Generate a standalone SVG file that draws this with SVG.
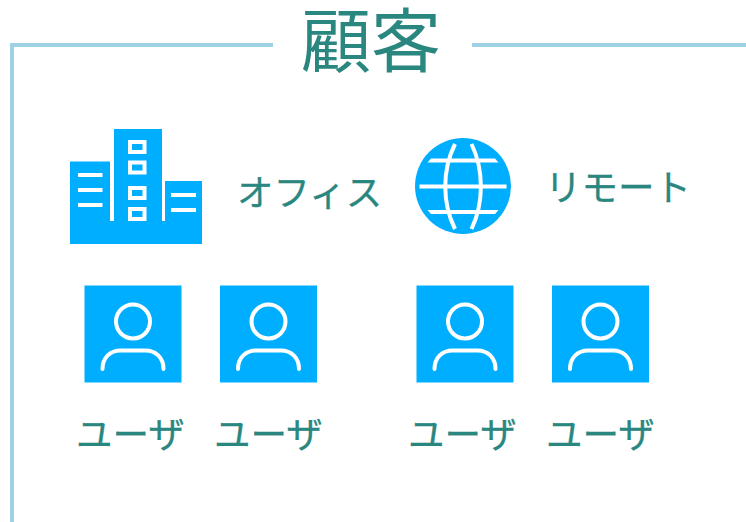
<svg xmlns="http://www.w3.org/2000/svg" width="746" height="522" viewBox="0 0 746 522">
<style>
text{font-family:"Noto Sans CJK JP","Noto Sans CJK SC",sans-serif;fill:#2a877f}
.l{font-size:36.500px;stroke:#2a877f;stroke-width:.3px}
.f{fill:#00aeff}
.w{fill:#fff}
.s{fill:none;stroke:#fff;stroke-width:4}
</style>
<defs>
<g id="user">
<rect class="f" x="0" y="0" width="97" height="97"/>
<circle class="s" cx="48.500" cy="36" r="17"/>
<path class="s" stroke-linecap="round" d="M18 83.500C18 72 26 65 36 65H61C71 65 79 72 79 83.500"/>
</g>
</defs>
<g id="frame"><path d="M273 45H12V522M472 45H746" fill="none" stroke="#9ed0e6" stroke-width="4"/></g>
<g id="title"><text x="301" y="66.500" font-size="70">顧客</text></g>
<g id="office">
<path class="f" d="M70 161.500H110V221H114V129H162V221H165V181H202V244H70Z"/>
<g class="w">
<rect x="78" y="173" width="24.500" height="4"/><rect x="78" y="188" width="24.500" height="4"/><rect x="78" y="203" width="24.500" height="4"/>
<rect x="171" y="193" width="25" height="4"/><rect x="171" y="208" width="25" height="4"/>
</g>
<g fill="none" stroke="#fff" stroke-width="4">
<rect x="130" y="142" width="14.500" height="10"/><rect x="130" y="162.500" width="14.500" height="10"/><rect x="130" y="188" width="14.500" height="10"/><rect x="130" y="209" width="14.500" height="10"/>
</g>
<text class="l" x="237" y="206">オフィス</text>
</g>
<g id="remote">
<circle class="f" cx="463" cy="186" r="48"/>
<path class="w" d="M419.500 184.500H506.500V188.500H419.500ZM431 158.500H495L498.500 162.500H427.500ZM427.500 210H498.500L495 214H431Z"/>
<path fill="none" stroke="#fff" stroke-width="4" d="M455 144C442 170 442 203 455 229M471.500 144C484 170 484 203 471.500 229"/>
<text class="l" x="545" y="201">リモート</text>
</g>
<g id="user1"><use href="#user" x="84.500" y="285.500"/><text class="l" x="76" y="448">ユーザ</text></g>
<g id="user2"><use href="#user" x="220" y="285.500"/><text class="l" x="214" y="448">ユーザ</text></g>
<g id="user3"><use href="#user" x="416.500" y="285.500"/><text class="l" x="408" y="448">ユーザ</text></g>
<g id="user4"><use href="#user" x="552" y="285.500"/><text class="l" x="546" y="448">ユーザ</text></g>
<g id="connectors"/>
</svg>
